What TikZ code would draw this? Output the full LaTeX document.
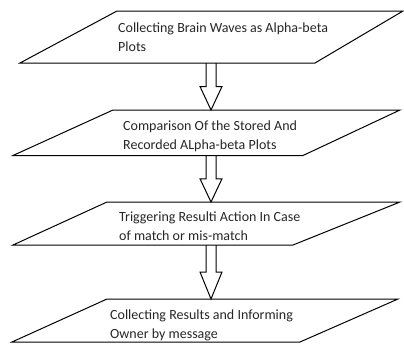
\documentclass[tikz,border=0pt]{standalone}
\usepackage{fontspec}
\setmainfont{Carlito}
\usetikzlibrary{calc}

\begin{document}
\begin{tikzpicture}[x=1pt, y=1pt,
    zone/.style={inner sep=0pt, outer sep=0pt},
    lbl/.style={anchor=west, align=left, inner sep=0pt, text=black!85, font=\fontsize{14}{19}\selectfont},
    hollow/.style={draw, line width=1pt, line join=miter},
]
\useasboundingbox (0,0) rectangle (404,-343);

\node[zone, minimum width=383pt, minimum height=52pt] (b1) at (211.5,-37) {};
\node[zone, minimum width=387pt, minimum height=45.5pt] (b2) at (206.5,-132.75) {};
\node[zone, minimum width=387pt, minimum height=43pt] (b3) at (206.5,-223.5) {};
\node[zone, minimum width=386pt, minimum height=43pt] (b4) at (205,-320.5) {};

% slanted step boxes
\foreach \b/\tl/\br in {b1/97/88, b2/100/97, b3/94/107, b4/95/98}{
  \draw[hollow] ($(\b.north west)+(\tl,0)$) -- (\b.north east)
    -- ($(\b.south east)+(-\br,0)$) -- (\b.south west) -- cycle;
}

\node[lbl] (t1) at (118,-37.5) {Collecting Brain Waves as Alpha-beta\\Plots};
\node[lbl] (t2) at (123,-136) {Comparison Of the Stored And\\Recorded ALpha-beta Plots};
\node[lbl] (t3) at (119,-226) {Triggering Resulti Action In Case\\of match or mis-match};
\node[lbl] (t4) at (110,-325) {Collecting Results and Informing\\Owner by message};

% hollow block arrows between the steps
\coordinate (ax) at (211,0);
\foreach \u/\v in {b1/b2, b2/b3, b3/b4}{
  \coordinate (s) at (\u.south -| ax);
  \coordinate (e) at (\v.north -| ax);
  \coordinate (m) at ($(s)!0.5!(e)$);
  \draw[hollow] ($(s)+(-5,0)$) -- ($(m)+(-5,0)$) -- ($(m)+(-11,0)$) -- (e)
    -- ($(m)+(11,0)$) -- ($(m)+(5,0)$) -- ($(s)+(5,0)$);
}
\end{tikzpicture}
\end{document}
